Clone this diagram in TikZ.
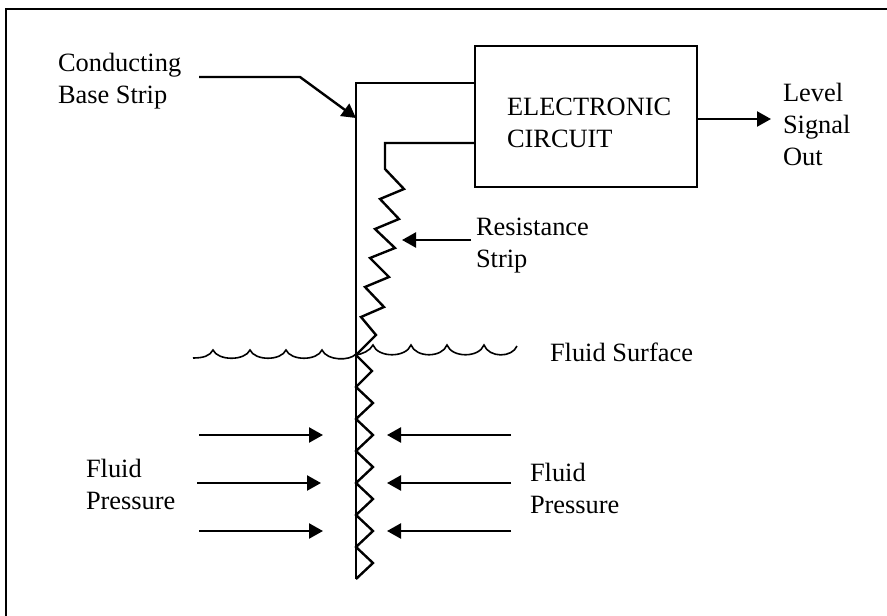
\documentclass[tikz,border=0pt]{standalone}
\usepackage{fontspec}
\setmainfont{Liberation Serif}
\usetikzlibrary{arrows.meta}
\tikzset{
  wire/.style={line width=2.4pt,line join=miter,draw=black},
  pointer/.style={wire,-{Triangle[length=14pt,width=15pt]}},
  surf/.style={line width=1.6pt,draw=black},
  lab/.style={anchor=base west,inner sep=0pt,outer sep=0pt,font=\fontsize{26.4pt}{32pt}\selectfont},
}
\begin{document}
\begin{tikzpicture}[x=1pt,y=-1pt]
\useasboundingbox (0,0) rectangle (887,616);
\fill[white] (0,0) rectangle (887,616);
% frame (its right and bottom sides fall outside the picture)
\coordinate (fbl) at (6,616);
\coordinate (ftl) at (6,9);
\coordinate (ftr) at (887,9);
\draw[wire] (fbl) -- (ftl) -- (ftr);
% circuit
\node[draw=black,line width=2.4pt,minimum width=222pt,minimum height=141pt,inner sep=0pt,outer sep=0pt] (circuit) at (586,116.5) {};
\node[lab] (circtxt1) at (507,115) {ELECTRONIC};
\node[lab] (circtxt2) at (507,147) {CIRCUIT};
% strips
\coordinate (basetop) at (356,83);
\coordinate (basebot) at (356,579);
\coordinate (restop) at (385,143);
\draw[wire] (basebot) -- (basetop) -- (basetop -| circuit.west);
\draw[wire] (circuit.west |- restop) -- (restop) -- (385,169) -- (404,189) -- (380,199) -- (399,219) -- (375,229) -- (395,248) -- (370,258) -- (389,277) -- (365,287) -- (384,307) -- (361,317) -- (376,335) -- (356,355) -- (372,371) -- (356,387) -- (373,403) -- (356,419) -- (373,435) -- (356,451) -- (373,467) -- (356,483) -- (373,499) -- (356,515) -- (373,531) -- (356,547) -- (373,563) -- (basebot);
% fluid surface
\draw[surf] (193,358) .. controls (203,358) and (210,356) .. (213,350)
  .. controls (218,361) and (245,361) .. (250,350)
  .. controls (255,361) and (281,361) .. (286,350)
  .. controls (291,361) and (317,361) .. (322,350)
  .. controls (327,361) and (350,361) .. (356,354);
\draw[surf] (356,355) .. controls (362,354) and (370,351) .. (373,345)
  .. controls (378,358) and (406,358) .. (411,345)
  .. controls (416,358) and (442,358) .. (447,345)
  .. controls (452,358) and (479,358) .. (484,345)
  .. controls (489,358) and (512,358) .. (517,346);
% pointers
\coordinate (c1) at (199,77);
\coordinate (c2) at (300,77);
\coordinate (c3) at (356,118);
\draw[pointer] (c1) -- (c2) -- (c3);
\coordinate (o2) at (771,119);
\draw[pointer] (circuit.east |- o2) -- (o2);
\coordinate (r1) at (471,240);
\coordinate (r2) at (402,240);
\draw[pointer] (r1) -- (r2);
\foreach \n/\y/\a in {1/435/199,2/483/197,3/531/199}{
  \coordinate (pl\n) at (\a,\y);
  \coordinate (pm\n) at (\a+124,\y);
  \draw[pointer] (pl\n) -- (pm\n);
  \coordinate (pr\n) at (511,\y);
  \coordinate (pq\n) at (387,\y);
  \draw[pointer] (pr\n) -- (pq\n);
}
% labels
\node[lab] (t1) at (58,71) {Conducting};
\node[lab] (t2) at (58,103) {Base Strip};
\node[lab] (t3) at (783,101) {Level};
\node[lab] (t4) at (783,133) {Signal};
\node[lab] (t5) at (783,165) {Out};
\node[lab] (t6) at (476,235) {Resistance};
\node[lab] (t7) at (476,267) {Strip};
\node[lab] (t8) at (550,361) {Fluid Surface};
\node[lab] (t9) at (530,481) {Fluid};
\node[lab] (t10) at (530,513) {Pressure};
\node[lab] (t11) at (86,477) {Fluid};
\node[lab] (t12) at (86,509) {Pressure};
\end{tikzpicture}
\end{document}
